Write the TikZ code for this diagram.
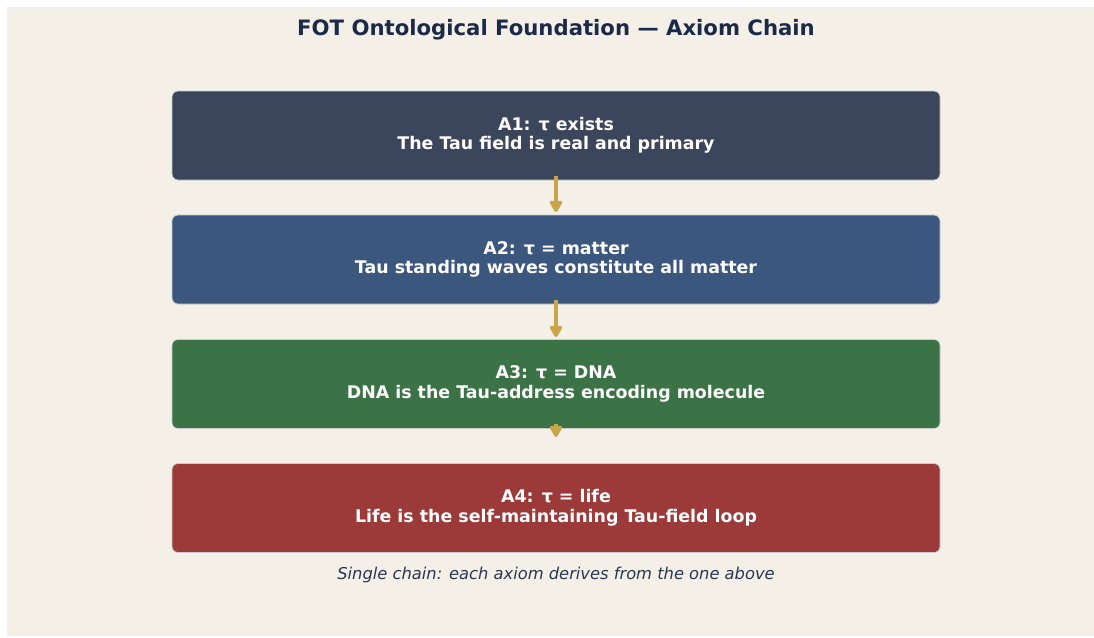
\documentclass[tikz,border=0pt]{standalone}
\usepackage{fontspec}
\setmainfont{DejaVu Sans}
\usetikzlibrary{arrows.meta}
\definecolor{bgc}{HTML}{F4F0E8}
\definecolor{titlec}{HTML}{1B2A47}
\definecolor{cA}{HTML}{3B465C}
\definecolor{cB}{HTML}{3C577D}
\definecolor{cC}{HTML}{3C7346}
\definecolor{cD}{HTML}{9B3A38}
\definecolor{gold}{HTML}{C9A54A}
\definecolor{capc}{HTML}{2A3550}
\tikzset{
  axbox/.style={draw=white!80!black, line width=0.8pt, rounded corners=6pt, minimum width=768pt, minimum height=89pt, inner sep=0pt, text=white, align=center, font=\fontsize{17.4}{19.5}\selectfont\bfseries},
  chainarrow/.style={draw=gold, line width=4pt, -{Triangle[length=13pt,width=14pt,round]}},
}
\begin{document}
\begin{tikzpicture}[x=1pt,y=-1pt]
\useasboundingbox (0,0) rectangle (1094,637);
\fill[white] (0,0) rectangle (1094,637);
\fill[bgc] (7,7) rectangle (1094,636);
\node[font=\fontsize{21.2}{25}\selectfont\bfseries, text=titlec] (title) at (556,30) {FOT Ontological Foundation — Axiom Chain};
\node[axbox, fill=cA] (a1) at (556,135.5) {A1: τ exists\\The Tau field is real and primary};
\node[axbox, fill=cB] (a2) at (556,259.5) {A2: τ = matter\\Tau standing waves constitute all matter};
\node[axbox, fill=cC] (a3) at (556,384) {A3: τ = DNA\\DNA is the Tau-address encoding molecule};
\node[axbox, fill=cD] (a4) at (556,508) {A4: τ = life\\Life is the self-maintaining Tau-field loop};
\coordinate (s1) at (556,176);
\coordinate (e1) at (556,212);
\coordinate (s2) at (556,300);
\coordinate (e2) at (556,337);
\coordinate (s3) at (556,424);
\coordinate (e3) at (556,437);
\draw[chainarrow] (s1) -- (e1);
\draw[chainarrow] (s2) -- (e2);
\draw[chainarrow] (s3) -- (e3);
\node[font=\fontsize{16.3}{19}\selectfont\itshape, text=capc] (cap) at (556,575) {Single chain: each axiom derives from the one above};
\end{tikzpicture}
\end{document}
